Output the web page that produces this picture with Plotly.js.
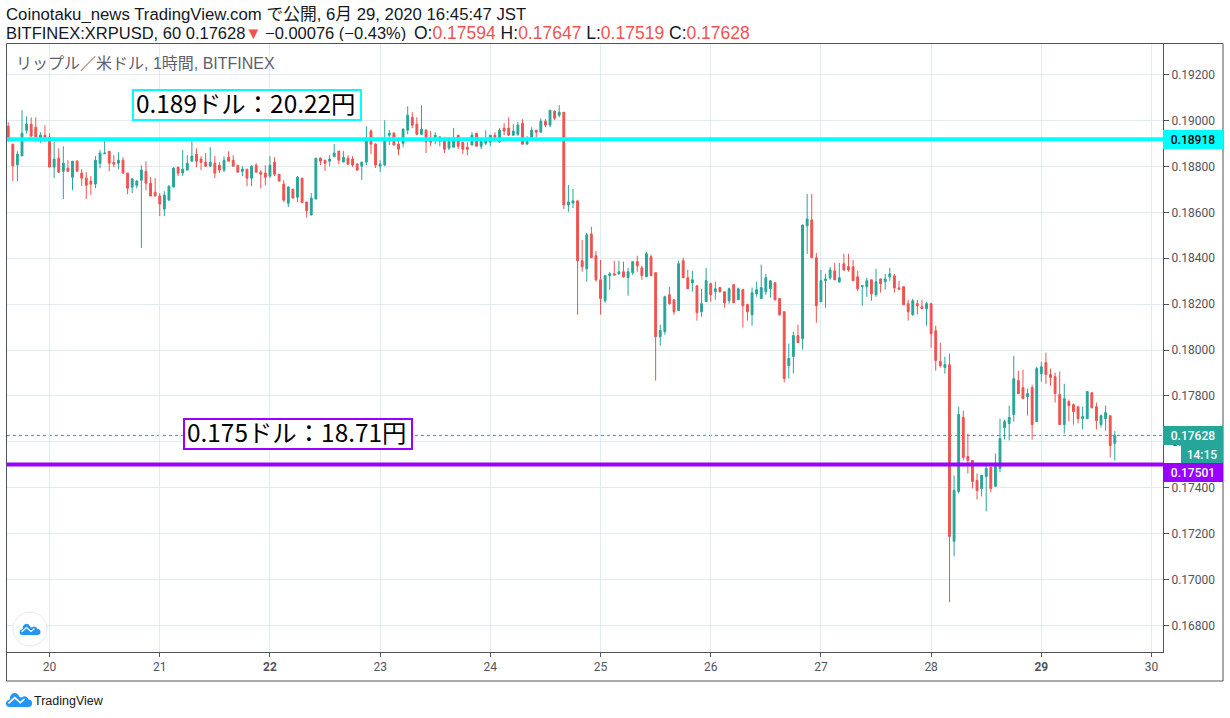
<!DOCTYPE html>
<html>
<head>
<meta charset="utf-8">
<script src="https://cdn.plot.ly/plotly-3.0.1.min.js"></script>
<style>html,body{margin:0;padding:0;background:#fff;overflow:hidden}#c{width:1230px;height:718px}</style>
</head>
<body>
<div id="c"></div>
<script>
const firstHour = '2020-06-19T15:00:00Z';
const dayTicks = ['2020-06-20','2020-06-21','2020-06-22','2020-06-23','2020-06-24','2020-06-25','2020-06-26','2020-06-27','2020-06-28','2020-06-29','2020-06-30'];
const dayLabels = ['20','21','<b>22</b>','23','24','25','26','27','28','<b>29</b>','30'];
const open = [
.18975,.18897,.18807,.18846,.18958,.18984,.18971,.18924,.18936,.18926,
.18797,.18836,.18779,.18792,.18753,.18823,.18771,.18749,.18736,.18723,
.18814,.18855,.18866,.18818,.18814,.18827,.18771,.18710,.18718,.18740,
.18779,.18727,.18688,.18671,.18614,.18653,.18710,.18797,.18771,.18784,
.18823,.18853,.18832,.18818,.18801,.18814,.18805,.18784,.18840,.18827,
.18805,.18779,.18788,.18749,.18805,.18775,.18771,.18758,.18818,.18766,
.18723,.18640,.18701,.18666,.18749,.18645,.18588,.18658,.18836,.18827,
.18823,.18843,.18867,.18819,.18836,.18832,.18810,.18801,.18819,.18954,
.18897,.18801,.18806,.18936,.18945,.18897,.18901,.18958,.19014,.18984,
.18940,.18958,.18911,.18922,.18910,.18910,.18880,.18884,.18936,.18906,
.18884,.18893,.18945,.18888,.18901,.18906,.18936,.18906,.18967,.18967,
.18936,.18940,.18988,.18897,.18927,.18958,.18949,.18997,.18980,.19040,
.19023,.19036,.18632,.18641,.18650,.18389,.18354,.18506,.18411,.18306,
.18215,.18324,.18332,.18332,.18341,.18315,.18337,.18385,.18358,.18319,
.18406,.18337,.18058,.18080,.18241,.18219,.18172,.18389,.18315,.18293,
.18280,.18167,.18211,.18289,.18254,.18272,.18254,.18215,.18285,.18219,
.18263,.18198,.18154,.18245,.18224,.18254,.18267,.18293,.18224,.18167,
.17932,.17972,.18063,.18050,.18541,.18567,.18402,.18210,.18302,.18315,
.18345,.18297,.18376,.18363,.18363,.18319,.18277,.18276,.18306,.18241,
.18310,.18297,.18319,.18323,.18271,.18276,.18202,.18154,.18202,.18189,
.18180,.18202,.18084,.17950,.17924,.17936,.17167,.17384,.17706,.17536,
.17519,.17432,.17397,.17449,.17488,.17406,.17484,.17662,.17680,.17719,
.17867,.17836,.17797,.17836,.17688,.17897,.17945,.17893,.17884,.17806,
.17675,.17775,.17762,.17753,.17701,.17701,.17814,.17753,.17675,.17701,
.17714,.17594];
const high = [
.18992,.18897,.18866,.19045,.19018,.19014,.19014,.18949,.18979,.18945,
.18907,.18879,.18888,.18827,.18823,.18827,.18788,.18775,.18758,.18845,
.18871,.18910,.18866,.18849,.18862,.18840,.18771,.18749,.18740,.18805,
.18823,.18753,.18749,.18684,.18692,.18718,.18797,.18797,.18871,.18849,
.18910,.18879,.18845,.18858,.18884,.18845,.18818,.18845,.18866,.18849,
.18805,.18801,.18788,.18805,.18814,.18784,.18805,.18845,.18840,.18766,
.18740,.18714,.18701,.18758,.18749,.18645,.18684,.18836,.18840,.18827,
.18849,.18897,.18867,.18867,.18849,.18845,.18814,.18819,.18975,.18962,
.18901,.18827,.19001,.18958,.18949,.18914,.18967,.19062,.19036,.19014,
.19067,.18962,.18954,.18949,.18929,.18929,.18929,.18967,.18936,.18906,
.18906,.18949,.18945,.18919,.18958,.18936,.18949,.18967,.18988,.19014,
.18984,.18993,.19006,.18932,.18971,.18958,.19010,.19006,.19045,.19045,
.19067,.19036,.18719,.18702,.18650,.18480,.18511,.18537,.18432,.18393,
.18324,.18341,.18389,.18389,.18385,.18358,.18385,.18411,.18367,.18428,
.18415,.18337,.18111,.18237,.18276,.18219,.18389,.18402,.18350,.18345,
.18280,.18267,.18358,.18293,.18298,.18272,.18254,.18272,.18285,.18272,
.18267,.18202,.18272,.18298,.18372,.18332,.18302,.18293,.18224,.18167,
.18028,.18080,.18111,.18545,.18680,.18680,.18423,.18349,.18332,.18363,
.18380,.18380,.18419,.18419,.18393,.18345,.18284,.18315,.18306,.18354,
.18310,.18332,.18358,.18332,.18302,.18276,.18219,.18223,.18219,.18219,
.18210,.18206,.18106,.18032,.17971,.17984,.17454,.17753,.17736,.17636,
.17519,.17462,.17454,.17497,.17497,.17549,.17701,.17697,.17758,.17975,
.17910,.17914,.17832,.17849,.17927,.17949,.17988,.17919,.17901,.17906,
.17853,.17784,.17767,.17753,.17753,.17819,.17814,.17771,.17719,.17758,
.17714,.17647];
const low = [
.18907,.18736,.18736,.18846,.18943,.18929,.18907,.18903,.18907,.18797,
.18749,.18771,.18658,.18775,.18697,.18779,.18714,.18658,.18675,.18705,
.18792,.18855,.18779,.18797,.18788,.18771,.18679,.18684,.18705,.18445,
.18697,.18671,.18671,.18584,.18584,.18653,.18710,.18758,.18758,.18784,
.18823,.18797,.18784,.18797,.18801,.18749,.18771,.18775,.18823,.18801,
.18775,.18758,.18714,.18714,.18775,.18705,.18718,.18749,.18758,.18736,
.18645,.18623,.18662,.18645,.18642,.18577,.18588,.18658,.18806,.18780,
.18801,.18840,.18810,.18819,.18806,.18797,.18780,.18741,.18806,.18854,
.18793,.18775,.18801,.18893,.18893,.18849,.18884,.18940,.18967,.18936,
.18940,.18858,.18888,.18897,.18888,.18858,.18871,.18884,.18875,.18854,
.18849,.18893,.18888,.18875,.18893,.18888,.18906,.18906,.18936,.18932,
.18936,.18932,.18897,.18897,.18927,.18927,.18949,.18971,.18971,.19001,
.19014,.18614,.18602,.18619,.18154,.18341,.18298,.18402,.18298,.18154,
.18206,.18263,.18324,.18328,.18315,.18237,.18328,.18341,.18306,.18319,
.18324,.17867,.18019,.18067,.18198,.18154,.18172,.18315,.18267,.18254,
.18128,.18145,.18211,.18211,.18219,.18250,.18185,.18202,.18206,.18219,
.18098,.18128,.18106,.18232,.18224,.18241,.18228,.18215,.18150,.17859,
.17876,.17898,.18032,.18002,.18419,.18402,.18119,.18210,.18184,.18306,
.18306,.18293,.18345,.18341,.18302,.18258,.18193,.18232,.18215,.18232,
.18250,.18263,.18302,.18250,.18263,.18197,.18128,.18150,.18154,.18180,
.18106,.18010,.17910,.17924,.17897,.16901,.17101,.17375,.17519,.17462,
.17397,.17349,.17362,.17297,.17380,.17406,.17467,.17610,.17606,.17688,
.17810,.17788,.17714,.17610,.17688,.17862,.17853,.17845,.17771,.17675,
.17636,.17688,.17675,.17680,.17654,.17701,.17745,.17654,.17662,.17649,
.17532,.17519];
const close = [
.18926,.18803,.18853,.18945,.18984,.18932,.18929,.18936,.18926,.18797,
.18832,.18775,.18814,.18779,.18823,.18779,.18749,.18718,.18723,.18827,
.18858,.18858,.18814,.18810,.18827,.18771,.18705,.18745,.18736,.18784,
.18727,.18671,.18671,.18636,.18675,.18714,.18792,.18771,.18788,.18814,
.18845,.18823,.18818,.18801,.18818,.18771,.18784,.18827,.18823,.18801,
.18775,.18788,.18749,.18801,.18775,.18766,.18753,.18805,.18766,.18736,
.18653,.18710,.18662,.18753,.18642,.18607,.18662,.18836,.18823,.18814,
.18832,.18858,.18827,.18840,.18810,.18806,.18784,.18819,.18914,.18897,
.18806,.18810,.18914,.18945,.18893,.18875,.18962,.19023,.18980,.18940,
.18962,.18907,.18906,.18936,.18929,.18875,.18910,.18910,.18888,.18875,
.18875,.18936,.18888,.18910,.18910,.18936,.18927,.18958,.18954,.18936,
.18954,.18980,.18897,.18910,.18958,.18949,.18997,.18980,.19045,.19010,
.19036,.18632,.18645,.18650,.18389,.18363,.18502,.18402,.18306,.18224,
.18324,.18332,.18327,.18341,.18319,.18341,.18385,.18367,.18324,.18419,
.18324,.18058,.18085,.18232,.18202,.18167,.18376,.18315,.18267,.18306,
.18163,.18202,.18302,.18241,.18267,.18254,.18206,.18267,.18206,.18267,
.18193,.18167,.18250,.18263,.18272,.18315,.18302,.18219,.18154,.17876,
.17963,.18063,.18032,.18545,.18571,.18402,.18193,.18302,.18310,.18349,
.18306,.18315,.18349,.18349,.18302,.18267,.18280,.18302,.18245,.18297,
.18289,.18310,.18332,.18271,.18265,.18197,.18167,.18215,.18193,.18180,
.18202,.18071,.17954,.17932,.17937,.17188,.17388,.17719,.17532,.17519,
.17427,.17388,.17454,.17484,.17397,.17493,.17614,.17688,.17706,.17875,
.17810,.17788,.17810,.17675,.17919,.17927,.17893,.17880,.17810,.17675,
.17788,.17758,.17732,.17701,.17710,.17819,.17749,.17693,.17714,.17727,
.17584,.17628];
const cyanLevel = 0.18918, purpleLevel = 0.17501, lastClose = 0.17628;
const countdownAt = 0.17546, purpleTagAt = 0.17465;
const cyanNote = '0.189ドル\uFF1A20.22円', purpleNote = '0.175ドル\uFF1A18.71円';

const UP = '#26a69a', DOWN = '#ef5350', INK = '#50535e';
const L = 7, R = 1163, T = 44, B = 652;
const px = v => (v - L) / (R - L), py = v => (B - v) / (B - T);
const start = Date.parse(firstHour);
const times = open.map((_, i) => new Date(start + i * 3600000).toISOString().slice(0, 19).replace('T', ' '));

const cjk = '"Noto Sans CJK JP","Noto Sans",sans-serif';
const latin = '"Liberation Sans","Noto Sans CJK JP",sans-serif';
const head = (text, x, y, size, color) => ({xref:'paper',yref:'paper',x:px(x-2),y:py(y),xanchor:'left',yanchor:'middle',
  text, showarrow:false, align:'left', height:17, font:{family:latin,size,color}});
const tag = (text, yv, bg, fg, x0, w) => ({xref:'paper',yref:'y',x:px(x0),y:yv,xanchor:'left',yanchor:'middle',
  text, showarrow:false, width:w, height:19, bgcolor:bg, borderpad:0, borderwidth:0,
  font:{family:'Roboto,sans-serif',size:12,weight:500,color:fg}});
const note = (text, x, y) => ({xref:'paper',yref:'paper',x:px(x),y:py(y),xanchor:'left',yanchor:'middle',
  text, showarrow:false, align:'left', font:{family:cjk,size:24.4,color:'#000000'}});
const noteBox = (x0, y0, x1, y1, col) => ({type:'rect',layer:'above',xref:'paper',yref:'paper',x0:px(x0),x1:px(x1),y0:py(y1),y1:py(y0),
  line:{color:col,width:2},fillcolor:'#ffffff'});
const red = s => `<span style="color:${DOWN}">${s}</span>`;

const cloud = s => {
  const p = a => a.map(c => typeof c === 'number' ? (c * s).toFixed(2) : c).join(' ');
  return p(['M',3,0,'L',18,0,'Q',21,0,21,3,'Q',21,6,18,6,'Q',17,9,14,8.5,'Q',12,7,11,8,'Q',9,12,6,11,'Q',3,10,3,6,'Q',0,5,0,3,'Q',0,0,3,0,'Z']);
};
const zig = s => ['M',2,3,'L',7,7.5,'L',11.5,3.5,'L',15,6.5].map(c => typeof c === 'number' ? (c * s).toFixed(2) : c).join(' ');
const icon = (x, y, s) => [
  {type:'path',layer:'above',xref:'paper',yref:'paper',xsizemode:'pixel',ysizemode:'pixel',xanchor:px(x),yanchor:py(y),path:cloud(s),fillcolor:'#2196f3',line:{width:0}},
  {type:'path',layer:'above',xref:'paper',yref:'paper',xsizemode:'pixel',ysizemode:'pixel',xanchor:px(x),yanchor:py(y),path:zig(s),line:{color:'#ffffff',width:1.3*s}}
];

const trace = {
  type:'candlestick', x:times, open, high, low, close, hoverinfo:'skip',
  increasing:{line:{color:UP,width:1},fillcolor:UP},
  decreasing:{line:{color:DOWN,width:1},fillcolor:DOWN},
  whiskerwidth:0
};
const layout = {
  width:1230, height:718, autosize:false, showlegend:false, paper_bgcolor:'#ffffff', plot_bgcolor:'#ffffff',
  margin:{l:L,r:1230-R,t:T,b:718-B,pad:0}, boxgap:0.42,
  xaxis:{type:'date',range:['2020-06-19 14:44','2020-06-30 02:30'],tickmode:'array',tickvals:dayTicks,ticktext:dayLabels,
    rangeslider:{visible:false},showgrid:true,gridcolor:'#e1ecf2',gridwidth:1,zeroline:false,showline:true,linecolor:INK,linewidth:1,
    ticks:'outside',ticklen:4,tickcolor:INK,tickfont:{family:'Roboto,sans-serif',size:12,color:INK},fixedrange:true},
  yaxis:{side:'right',range:[0.166842,0.193335],tick0:0.168,dtick:0.002,tickformat:'.5f',showgrid:true,gridcolor:'#e1ecf2',gridwidth:1,
    zeroline:false,showline:true,linecolor:INK,linewidth:1,ticks:'outside',ticklen:5,tickcolor:INK,
    tickfont:{family:'Roboto,sans-serif',size:12,color:INK},fixedrange:true},
  shapes:[
    {type:'line',layer:'below',xref:'paper',yref:'y',x0:0,x1:1,y0:lastClose,y1:lastClose,line:{color:UP,width:1,dash:'dot'}},
    {type:'line',xref:'paper',yref:'y',x0:0,x1:1,y0:cyanLevel,y1:cyanLevel,line:{color:'#00ffff',width:4}},
    {type:'line',xref:'paper',yref:'y',x0:0,x1:1,y0:purpleLevel,y1:purpleLevel,line:{color:'#9900ff',width:4}},
    noteBox(133,90,361,120,'#00ffff'),
    noteBox(184,419,412,449,'#9900ff'),
    {type:'rect',xref:'paper',yref:'paper',x0:px(6.5),x1:px(1223),y0:py(681),y1:py(43.5),line:{color:INK,width:1},fillcolor:'rgba(0,0,0,0)'},
    {type:'circle',layer:'above',xref:'paper',yref:'paper',x0:px(13),x1:px(47),y0:py(646),y1:py(612),line:{color:'#e8e8e8',width:1},fillcolor:'#ffffff'},
    ...icon(19.5,635,1),
    ...icon(6,707,1.24)
  ],
  annotations:[
    head('Coinotaku_news TradingView.com で公開, 6月 29, 2020 16:45:47 JST',6,15,16.75,'#131722'),
    head(`BITFINEX:XRPUSD, 60 0.17628${red('▼')}\u2009−0.00076 (−0.43%)`,6,32,16.5,'#131722'),
    head(`O:${red('0.17594')} H:${red('0.17647')} L:${red('0.17519')} C:${red('0.17628')}`,414,32,17.5,'#131722'),
    head('リップル／米ドル, 1時間, BITFINEX',16,63,16,'#5d606b'),
    note(cyanNote,134,103),
    note(purpleNote,185,432),
    tag('0.18918',cyanLevel,'#00ffff','#000000',1163,60),
    tag('0.17628',lastClose,UP,'#ffffff',1163,60),
    tag('14:15',countdownAt,UP,'#ffffff',1181,42),
    tag('0.17501',purpleTagAt,'#9900ff','#ffffff',1163,60),
    head('TradingView',34,700,12.5,'#131722')
  ]
};
Plotly.newPlot('c',[trace],layout,{displayModeBar:false,staticPlot:true});
</script>
</body>
</html>
